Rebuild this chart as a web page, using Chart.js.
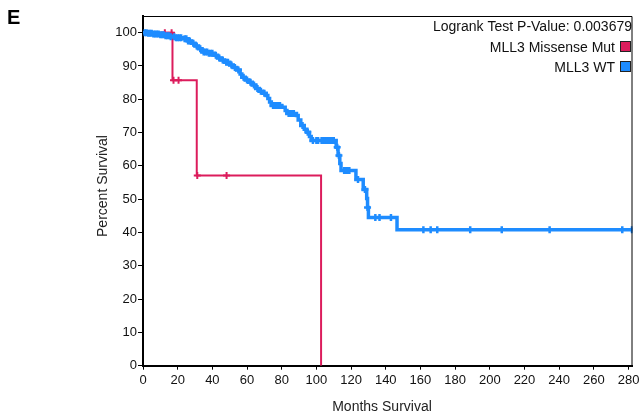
<!DOCTYPE html>
<html><head><meta charset="utf-8">
<script src="https://cdn.jsdelivr.net/npm/chart.js@4/dist/chart.umd.min.js"></script>
<style>html,body{margin:0;padding:0;background:#fff;overflow:hidden}</style>
</head><body>
<canvas id="c" width="639" height="414"></canvas>
<script>
// ---- data ----
const xTickValues = [0,20,40,60,80,100,120,140,160,180,200,220,240,260,280];
const yTickValues = [0,10,20,30,40,50,60,70,80,90,100];
const pValueText = 'Logrank Test P-Value: 0.003679';
const seriesNames = ['MLL3 Missense Mut', 'MLL3 WT'];

// MLL3 Missense Mut (step curve)
const mutTimes = [0, 17, 31, 102.7];
const mutSurv  = [100, 85.7, 57.1, 0];
const mutCensorTimes = [12.6, 16.5, 17.6, 20.5, 31.3, 48.2];
const mutCensorSurv  = [100, 100, 85.7, 85.7, 57.1, 57.1];

// MLL3 WT (step curve)
const wtTimes = [0,3,6,10,13,16,19,23,26,28,30,32,34,38,41,43,45,47,50,52,54,56,57,59,61,63,65,67,69,71,72,73,74,80,82,83,88.5,89.5,91,93,94.5,96,97,111.4,112.5,113.5,114.2,122.8,127,129,129.5,130,146.5,282.3];
const wtSurv  = [100,99.8,99.6,99.4,99.1,98.8,98.5,98.2,97.5,96.8,96.0,95.2,94.2,93.8,93.2,92.4,91.8,91.1,90.3,89.5,88.8,87.6,86.6,85.8,85.1,84.3,83.2,82.4,81.8,81.1,80.2,79.2,78.1,77.6,76.6,75.7,75.1,73.8,72.1,71.0,70.1,68.8,67.6,65.6,63.1,60.7,58.6,55.9,52.9,50.2,47.5,44.5,40.8,40.8];
const wtCensorTimes = [1,2,3,4,5,6,7,8,9,10,11,12,13,14,15,16,18,19,20,21,22,24,25,26,27,29,31,33,35,36,37,38,39,40,42,44,46,48,49,51,53,55,58,60,62,64,66,68,70,75,76,77,78,79,84,85,86,87,92,95,98,100,101,103,104,105,106,107,108,109,110,112,113,116,117,118,119,124,128,129.5,134,136.4,143,161.7,165.9,169.7,188.7,206.9,234.5,276.4,282];

const RED = '#dc1c5c';
const BLUE = '#1e8cff';
const FONT = "'Liberation Sans', Arial, Helvetica, sans-serif";

function stepAt(times, vals, t){
  let v = vals[0];
  for (let i=0;i<times.length;i++){ if (times[i] <= t) v = vals[i]; }
  return v;
}
const pts = (ts, vs) => ts.map((t,i)=>({x:t, y:vs[i]}));

const overlay = {
  id:'overlay',
  afterDraw(chart){
    const ctx = chart.ctx, a = chart.chartArea;
    ctx.save();
    // frame top/right
    ctx.strokeStyle = '#000'; ctx.lineWidth = 1;
    ctx.beginPath();
    ctx.moveTo(a.left, a.top+0.5); ctx.lineTo(a.right-0.5, a.top+0.5); ctx.lineTo(a.right-0.5, a.bottom);
    ctx.stroke();
    // legend
    ctx.fillStyle = '#111';
    ctx.font = '14px ' + FONT;
    ctx.textAlign = 'right'; ctx.textBaseline = 'alphabetic';
    ctx.fillText(pValueText, 632, 31);
    ctx.fillText(seriesNames[0], 615, 52);
    ctx.fillText(seriesNames[1], 615, 72);
    ctx.lineWidth = 1; ctx.strokeStyle = '#222';
    ctx.fillStyle = RED; ctx.fillRect(620.5, 41.5, 10, 10); ctx.strokeRect(620.5, 41.5, 10, 10);
    ctx.fillStyle = BLUE; ctx.fillRect(620.5, 61.5, 10, 10); ctx.strokeRect(620.5, 61.5, 10, 10);
    // axis titles
    ctx.fillStyle = '#222';
    ctx.font = '14px ' + FONT;
    ctx.textAlign = 'center'; ctx.textBaseline = 'middle';
    ctx.fillText('Months Survival', 382, 407);
    ctx.translate(103, 186); ctx.rotate(-Math.PI/2);
    ctx.fillText('Percent Survival', 0, 0);
    ctx.restore();
    ctx.save();
    ctx.fillStyle = '#000';
    ctx.font = 'bold 20px ' + FONT;
    ctx.textAlign = 'left'; ctx.textBaseline = 'alphabetic';
    ctx.fillText('E', 7, 24);
    ctx.restore();
  }
};

new Chart(document.getElementById('c'), {
  type: 'scatter',
  data: {
    datasets: [
      { label: seriesNames[0], data: pts(mutTimes, mutSurv), showLine: true, stepped: true,
        borderColor: RED, borderWidth: 2, pointRadius: 0, fill: false, order: 2 },
      { label: seriesNames[0]+' censored', data: pts(mutCensorTimes, mutCensorSurv), showLine: false,
        pointStyle: 'cross', pointRadius: 3.5, borderColor: RED, borderWidth: 2, order: 2 },
      { label: seriesNames[1], data: pts(wtTimes, wtSurv), showLine: true, stepped: true,
        borderColor: BLUE, borderWidth: 3.5, pointRadius: 0, fill: false, order: 1 },
      { label: seriesNames[1]+' censored', data: wtCensorTimes.map(t=>({x:t, y:stepAt(wtTimes, wtSurv, t)})), showLine: false,
        pointStyle: 'cross', pointRadius: 3.5, borderColor: BLUE, borderWidth: 2.5, order: 1 }
    ]
  },
  options: {
    responsive: false, animation: false, devicePixelRatio: 1,
    layout: { padding: { left: 0, top: 16, right: 2, bottom: 0 } },
    plugins: { legend: { display: false }, tooltip: { enabled: false } },
    scales: {
      x: {
        type: 'linear', min: 0, max: 282.3,
        afterBuildTicks: s => { s.ticks = xTickValues.map(v=>({value:v})); },
        afterFit: s => { s.height = 48.3; s.paddingLeft = 0; s.paddingRight = 0; },
        ticks: { font: { family: FONT, size: 13 }, color: '#111', padding: 3, maxRotation: 0, autoSkip: false },
        grid: { display: true, drawOnChartArea: false, drawTicks: true, tickLength: 4, color: '#000', lineWidth: 1 },
        border: { display: true, color: '#000', width: 2 }
      },
      y: {
        type: 'linear', min: 0, max: 105,
        afterBuildTicks: s => { s.ticks = yTickValues.map(v=>({value:v})); },
        afterFit: s => { s.width = 143; s.paddingTop = 0; s.paddingBottom = 0; },
        ticks: { font: { family: FONT, size: 13 }, color: '#111', padding: 1, autoSkip: false },
        grid: { display: true, drawOnChartArea: false, drawTicks: true, tickLength: 5, color: '#000', lineWidth: 1 },
        border: { display: true, color: '#000', width: 2 }
      }
    }
  },
  plugins: [overlay]
});
</script>
</body></html>
